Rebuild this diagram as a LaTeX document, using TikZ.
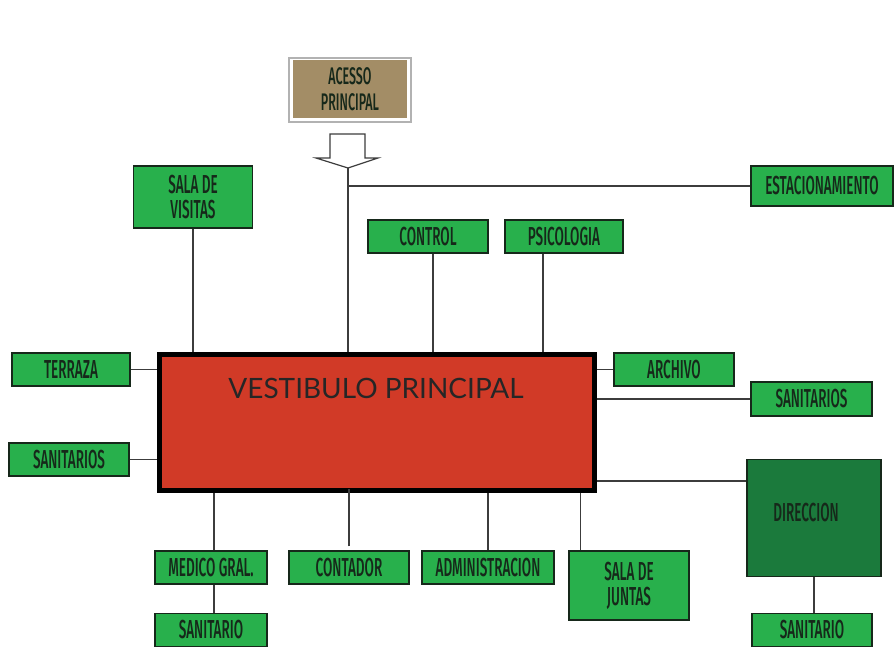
\documentclass[tikz,border=0pt]{standalone}
\usepackage{fontspec}
\newfontfamily\lblfont[FakeStretch=0.52]{Fira Sans Medium}
\newfontfamily\titlefont{Lato}
\definecolor{boxgreen}{RGB}{40,176,76}
\definecolor{darkgreen}{RGB}{27,122,60}
\definecolor{brownbox}{RGB}{163,141,102}
\definecolor{vestred}{RGB}{209,58,39}
\definecolor{txt}{RGB}{22,40,26}
\definecolor{linegray}{RGB}{60,60,60}
\begin{document}
\begin{tikzpicture}[x=1pt,y=-1pt,
  lbl/.style={text=txt, font=\lblfont\fontsize{26}{25}\selectfont},
  room/.style={lbl, draw=txt, line width=1.4pt, fill=boxgreen, align=center,
    inner sep=0pt, minimum width=120pt, minimum height=33pt},
  conn/.style={draw=linegray, line width=1.5pt}]
\useasboundingbox (0,0) rectangle (894,649);
% entrance
\node[draw=black!30, line width=2.5pt, fill=white, inner sep=0pt,
  minimum width=122pt, minimum height=64pt] (accframe) at (350,90) {};
\node[lbl, fill=brownbox, inner sep=0pt, minimum width=114pt, minimum height=58pt,
  align=center, font=\lblfont\fontsize{24}{26}\selectfont] (acceso) at (350,89) {ACESSO\\PRINCIPAL};
\coordinate (tip) at (348,168);
\draw[linegray, line width=1.2pt, fill=white, line join=miter]
  ([xshift=-18pt,yshift=34pt]tip) -- ([xshift=17pt,yshift=34pt]tip) --
  ([xshift=17pt,yshift=10pt]tip) -- ([xshift=30pt,yshift=10pt]tip) -- (tip) --
  ([xshift=-32pt,yshift=10pt]tip) -- ([xshift=-18pt,yshift=10pt]tip) -- cycle;
% main hall
\node[draw=black, line width=5pt, fill=vestred, inner sep=0pt,
  minimum width=435pt, minimum height=136pt] (vest) at (377,422.5) {};
\node[font=\titlefont\fontsize{28}{30}\selectfont, text=black!85] (vtitle) at (376,388) {VESTIBULO PRINCIPAL};
% rooms
\node[room, minimum width=142pt, minimum height=40pt] (estac) at (822,186) {ESTACIONAMIENTO};
\node[room, minimum width=119pt, minimum height=62pt] (visitas) at (193,197) {SALA DE\\VISITAS};
\node[room] (control) at (428,236.5) {CONTROL};
\node[room, minimum width=118pt] (psico) at (564,236.5) {PSICOLOGIA};
\node[room, minimum width=118pt] (terraza) at (71,369.5) {TERRAZA};
\node[room] (sanl) at (69,459.5) {SANITARIOS};
\node[room] (archivo) at (674,369.5) {ARCHIVO};
\node[room, minimum width=121pt, minimum height=34pt] (sanr) at (811.5,399) {SANITARIOS};
\node[room, fill=darkgreen, minimum width=134pt, minimum height=117pt] (direc) at (814,518) {};
\node[lbl] (dirtxt) at (806,513) {DIRECCION};
\node[room] (sandir) at (812,630) {SANITARIO};
\node[room, minimum width=112pt] (medico) at (211,567.5) {MEDICO GRAL.};
\node[room] (contador) at (349,567.5) {CONTADOR};
\node[room, minimum width=132pt] (admin) at (488,567.5) {ADMINISTRACION};
\node[room, minimum height=69pt] (juntas) at (629,585.5) {SALA DE\\JUNTAS};
\node[room, minimum width=112pt] (sanmed) at (211,630) {SANITARIO};
% connectors
\draw[conn] (tip) -- (tip |- vest.north);
\draw[conn] (estac.west) -- (estac.west -| tip);
\draw[conn] (visitas.south) -- (visitas.south |- vest.north);
\draw[conn] ([xshift=5pt]control.south) -- ([xshift=5pt]control.south |- vest.north);
\draw[conn] ([xshift=-21pt]psico.south) -- ([xshift=-21pt]psico.south |- vest.north);
\draw[conn] (terraza.east) -- (terraza.east -| vest.west);
\draw[conn] (sanl.east) -- (sanl.east -| vest.west);
\draw[conn] (archivo.west) -- (archivo.west -| vest.east);
\draw[conn] (sanr.west) -- (sanr.west -| vest.east);
\draw[conn] ([yshift=37pt]direc.west) -- ([yshift=37pt]direc.west -| vest.east);
\draw[conn] (direc.south) -- (direc.south |- sandir.north);
\draw[conn] ([xshift=3pt]medico.north) -- ([xshift=3pt]medico.north |- vest.south);
\draw[conn] ([xshift=3pt]medico.south) -- ([xshift=3pt]medico.south |- sanmed.north);
\draw[conn] ([yshift=4pt]contador.north) -- ([yshift=4pt]contador.north |- vest.south);
\draw[conn] (admin.north) -- (admin.north |- vest.south);
\draw[conn] ([xshift=12pt]juntas.north west) -- ([xshift=12pt]juntas.north west |- vest.south);
\end{tikzpicture}
\end{document}
